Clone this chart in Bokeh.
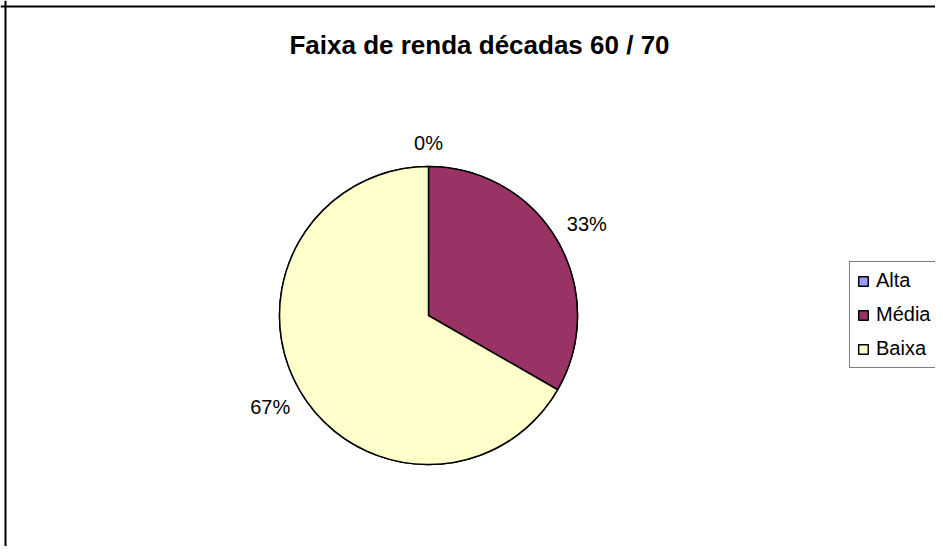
import math
from bokeh.plotting import figure
from bokeh.models import Range1d, Span, Legend, LegendItem, ColumnDataSource
from bokeh.core.properties import value
from bokeh.embed import file_html
from bokeh.resources import INLINE

# ---- data ----
title_text = "Faixa de renda décadas 60 / 70"
categories = ["Alta", "Média", "Baixa"]
shares = [0.0, 33.3, 66.7]
colors = ["#9999FF", "#993366", "#FFFFCC"]

# ---- layout (picture pixels -> data units; 1 unit = 1 px) ----
W, H = 935, 546
FONT = "Liberation Sans"

def px(x):
    return x

def py(y):
    return H - y

p = figure(width=W, height=H, output_backend="svg", toolbar_location=None,
           x_axis_location=None, y_axis_location=None, min_border=0,
           x_range=Range1d(0, W), y_range=Range1d(0, H))
p.grid.visible = False
p.outline_line_color = None
p.background_fill_color = "white"
p.border_fill_color = "white"

# chart border (top and left visible in the reference)
p.add_layout(Span(location=py(6), dimension="width", line_color="#000000", line_width=2))
p.add_layout(Span(location=px(5), dimension="height", line_color="#000000", line_width=2))

# title
p.text(x=[px(479)], y=[py(44)], text=[title_text], text_font=value(FONT),
       text_font_size="26px", text_font_style="bold", text_align="center",
       text_baseline="middle", text_color="#000000")

cx, cy, R = px(428), py(315), 149
total = sum(shares)
renderers = []
cum = 0.0
label_x, label_y, label_t = [], [], []
for cat, v, c in zip(categories, shares, colors):
    a0 = math.pi / 2 - 2 * math.pi * cum / total
    a1 = math.pi / 2 - 2 * math.pi * (cum + v) / total
    src = ColumnDataSource(dict(x=[cx], y=[cy], s=[a0], e=[a1]))
    r = p.wedge(x="x", y="y", radius=R, start_angle="s", end_angle="e",
                direction="clock", source=src, fill_color=c,
                line_color="#000000", line_width=1.5)
    renderers.append(r)
    mid = (a0 + a1) / 2
    txt = f"{round(100 * v / total)}%"
    fs = 20
    hw = fs * (0.556 * (len(txt) - 1) + 0.889) / 2
    hh = fs * 0.5
    cm, sm = abs(math.cos(mid)), abs(math.sin(mid))
    ext = min(hw / cm if cm > 1e-6 else 1e9, hh / sm if sm > 1e-6 else 1e9)
    d = R + 14 + ext
    label_x.append(cx + d * math.cos(mid))
    label_y.append(cy + d * math.sin(mid))
    label_t.append(txt)
    cum += v

p.text(x=label_x, y=label_y, text=label_t, text_font=value(FONT),
       text_font_size="20px", text_align="center", text_baseline="middle",
       text_color="#000000")

legend = Legend(items=[LegendItem(label=c, renderers=[r]) for c, r in zip(categories, renderers)],
                location=(px(849), py(368)), orientation="vertical",
                glyph_width=12, glyph_height=12, label_standoff=7,
                label_text_font=FONT, label_text_font_size="20px",
                label_text_color="#000000",
                label_height=22, spacing=11, padding=7, margin=0,
                border_line_color="#000000", border_line_width=1,
                background_fill_color="white", background_fill_alpha=1.0)
p.add_layout(legend)

open("out.html", "w").write(file_html(p, INLINE))
